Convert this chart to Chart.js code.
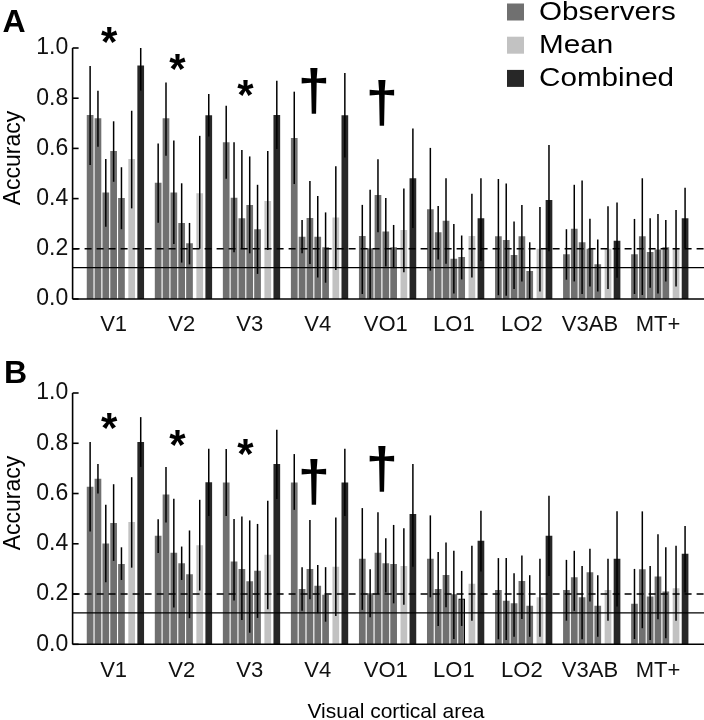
<!DOCTYPE html>
<html>
<head>
<meta charset="utf-8">
<title>Accuracy by visual cortical area</title>
<script src="https://cdn.jsdelivr.net/npm/chart.js@4.4.1/dist/chart.umd.min.js"></script>
<style>
  body { margin: 0; background: #fff; }
  #wrap { position: relative; width: 704px; height: 720px; }
  canvas { position: absolute; left: 0; }
  #chartA { top: 0; }
  #chartB { top: 345px; }
</style>
</head>
<body>
<div id="wrap">
  <canvas id="chartA" width="704" height="345"></canvas>
  <canvas id="chartB" width="704" height="375"></canvas>
</div>
<script>
const areas = ['V1', 'V2', 'V3', 'V4', 'VO1', 'LO1', 'LO2', 'V3AB', 'MT+'];
const yTickValues = [0, 0.2, 0.4, 0.6, 0.8, 1.0];
const chanceLevel = 0.125;
const criterionLevel = 0.2;

// panel A - five observers, mean of observers, combined
const obs1A = [0.733, 0.463, 0.625, 0.641, 0.251, 0.358, 0.25, 0.178, 0.178];
const obs2A = [0.72, 0.72, 0.403, 0.248, 0.202, 0.266, 0.235, 0.28, 0.25];
const obs3A = [0.424, 0.424, 0.322, 0.323, 0.414, 0.312, 0.175, 0.226, 0.187];
const obs4A = [0.59, 0.303, 0.375, 0.248, 0.269, 0.16, 0.25, 0.2, 0.197];
const obs5A = [0.402, 0.222, 0.278, 0.206, 0.206, 0.167, 0.112, 0.138, 0.206];
const meanA = [0.558, 0.421, 0.39, 0.325, 0.275, 0.251, 0.2, 0.2, 0.2];
const combA = [0.93, 0.732, 0.733, 0.732, 0.481, 0.322, 0.394, 0.232, 0.322];

const obs1ErrA = [[0.534,0.928],[0.304,0.62],[0.479,0.77],[0.458,0.826],[0.02,0.375],[0.113,0.602],[0.015,0.478],[0.077,0.278],[0.02,0.319]];
const obs2ErrA = [[0.607,0.83],[0.571,0.863],[0.186,0.625],[0.182,0.315],[0,0.435],[0.157,0.371],[0.013,0.46],[0.07,0.455],[0.016,0.481]];
const obs3ErrA = [[0.288,0.558],[0.219,0.631],[0.202,0.594],[0.139,0.47],[0.266,0.557],[0.14,0.481],[0.04,0.309],[0.02,0.472],[0.045,0.322]];
const obs4ErrA = [[0.467,0.708],[0.145,0.461],[0.182,0.568],[0.086,0.41],[0.129,0.402],[0.022,0.299],[0.07,0.375],[0.05,0.32],[0.022,0.339]];
const obs5ErrA = [[0.278,0.525],[0.138,0.303],[0.1,0.455],[0.065,0.345],[0.123,0.295],[0.078,0.253],[0,0.226],[0.03,0.237],[0.07,0.315]];
const meanErrA = [[0.361,0.75],[0.2,0.65],[0.195,0.59],[0.116,0.529],[0.107,0.44],[0.086,0.419],[0.03,0.367],[0.04,0.37],[0.05,0.355]];
const combErrA = [[0.83,1.0],[0.647,0.817],[0.598,0.87],[0.564,0.9],[0.283,0.679],[0.151,0.481],[0.19,0.614],[0.085,0.384],[0.203,0.443]];

// panel B
const obs1B = [0.627, 0.432, 0.644, 0.644, 0.34, 0.34, 0.216, 0.216, 0.161];
const obs2B = [0.659, 0.596, 0.329, 0.22, 0.203, 0.22, 0.173, 0.267, 0.299];
const obs3B = [0.401, 0.364, 0.3, 0.3, 0.364, 0.276, 0.163, 0.187, 0.19];
const obs4B = [0.483, 0.323, 0.251, 0.233, 0.323, 0.199, 0.252, 0.287, 0.27];
const obs5B = [0.32, 0.279, 0.293, 0.197, 0.32, 0.182, 0.153, 0.153, 0.21];
const meanB = [0.487, 0.394, 0.356, 0.309, 0.312, 0.241, 0.187, 0.216, 0.223];
const combB = [0.805, 0.645, 0.717, 0.644, 0.519, 0.412, 0.432, 0.34, 0.36];

const obs1ErrB = [[0.449,0.805],[0.363,0.498],[0.511,0.777],[0.535,0.757],[0.137,0.542],[0.187,0.513],[0.02,0.343],[0.094,0.336],[0.021,0.3]];
const obs2ErrB = [[0.6,0.717],[0.485,0.706],[0.174,0.499],[0.134,0.307],[0.108,0.299],[0.073,0.367],[0.017,0.343],[0.133,0.372],[0.064,0.529]];
const obs3ErrB = [[0.247,0.555],[0.146,0.579],[0.097,0.509],[0.179,0.495],[0.2,0.525],[0.147,0.405],[0.03,0.283],[0.02,0.312],[0.017,0.312]];
const obs4ErrB = [[0.332,0.637],[0.256,0.389],[0.046,0.493],[0.124,0.316],[0.206,0.422],[0.021,0.372],[0.101,0.353],[0.17,0.38],[0.1,0.438]];
const obs5ErrB = [[0.256,0.386],[0.104,0.453],[0.105,0.479],[0.09,0.307],[0.163,0.475],[0.073,0.292],[0.03,0.275],[0.03,0.275],[0.024,0.386]];
const meanErrB = [[0.305,0.665],[0.214,0.575],[0.139,0.571],[0.113,0.505],[0.157,0.462],[0.094,0.392],[0.03,0.34],[0.094,0.34],[0.094,0.392]];
const combErrB = [[0.706,0.904],[0.511,0.778],[0.578,0.854],[0.511,0.778],[0.309,0.717],[0.29,0.531],[0.272,0.591],[0.15,0.529],[0.206,0.471]];

// significance marks above areas, and the height (accuracy) they sit at
const marksA = ['*', '*', '*', '\u2020', '\u2020', '', '', '', ''];
const markLevelsA = [1.052, 0.944, 0.839, 0.828, 0.779, 0, 0, 0, 0];
const marksB = ['*', '*', '*', '\u2020', '\u2020', '', '', '', ''];
const markLevelsB = [0.887, 0.821, 0.787, 0.646, 0.699, 0, 0, 0, 0];

const FONT = "'Liberation Sans', Arial, Helvetica, sans-serif";
const colObs = '#707070';
const colMean = '#c2c2c2';
const colComb = '#272727';

Chart.defaults.font.family = FONT;
Chart.defaults.color = '#111';

function makeDatasets(obs, obsErr, mean, meanErr, comb, combErr, outlined) {
    const ds = obs.map((vals, k) => ({
        label: 'Observers',
        data: vals,
        errors: obsErr[k],
        backgroundColor: colObs,
        borderColor: '#000',
        borderWidth: c => (outlined && outlined[0] === k && outlined[1] === c.dataIndex) ? 1.3 : 0,
        categoryPercentage: 0.806,
        barPercentage: 0.856
    }));
    ds.push({ label: 'Mean', data: mean, errors: meanErr, backgroundColor: colMean,
        borderWidth: 0, categoryPercentage: 0.929, barPercentage: 0.742 });
    ds.push({ label: 'Combined', data: comb, errors: combErr, backgroundColor: colComb,
        borderWidth: 0, categoryPercentage: 0.929, barPercentage: 0.742 });
    return ds;
}

function hline(ctx, x1, x2, y) {
    ctx.beginPath(); ctx.moveTo(x1, y); ctx.lineTo(x2, y); ctx.stroke();
}

// error bars, reference lines and the axis frame
const framePlugin = {
    id: 'frame',
    afterDatasetsDraw(chart) {
        const { ctx, chartArea, width } = chart;
        const y = chart.scales.y;
        ctx.save();
        ctx.strokeStyle = '#000';
        ctx.lineWidth = 1.5;
        chart.data.datasets.forEach((ds, i) => {
            chart.getDatasetMeta(i).data.forEach((bar, j) => {
                const e = ds.errors[j];
                ctx.beginPath();
                ctx.moveTo(bar.x, y.getPixelForValue(e[0]));
                ctx.lineTo(bar.x, y.getPixelForValue(e[1]));
                ctx.stroke();
            });
        });
        const x0 = chartArea.left - 7;
        ctx.lineWidth = 1.4;
        ctx.setLineDash([7, 5]);
        hline(ctx, x0, width, y.getPixelForValue(criterionLevel));
        ctx.setLineDash([]);
        hline(ctx, x0, width, y.getPixelForValue(chanceLevel));
        ctx.lineWidth = 1.6;
        hline(ctx, x0, width, y.getPixelForValue(0));
        ctx.beginPath();
        ctx.moveTo(x0, y.getPixelForValue(yTickValues[yTickValues.length - 1]));
        ctx.lineTo(x0, y.getPixelForValue(0));
        ctx.stroke();
        yTickValues.forEach(v => hline(ctx, x0, x0 + 6, y.getPixelForValue(v)));
        ctx.restore();
    }
};

function drawCentered(ctx, text, cx, cy) {
    const m = ctx.measureText(text);
    const x = cx - (m.actualBoundingBoxRight - m.actualBoundingBoxLeft) / 2;
    const yy = cy + (m.actualBoundingBoxAscent - m.actualBoundingBoxDescent) / 2;
    ctx.fillText(text, x, yy);
}

// panel letter, axis title, significance marks, legend
const textPlugin = {
    id: 'panelText',
    afterDraw(chart, args, opts) {
        const { ctx } = chart;
        const x = chart.scales.x, y = chart.scales.y;
        ctx.save();
        ctx.fillStyle = '#000';
        ctx.textAlign = 'left';
        ctx.textBaseline = 'alphabetic';

        ctx.font = 'bold 32px ' + FONT;
        ctx.fillText(opts.letter, opts.letterX, opts.letterY);

        ctx.save();
        ctx.font = '23px ' + FONT;
        ctx.textAlign = 'center';
        ctx.translate(19.5, 158);
        ctx.rotate(-Math.PI / 2);
        ctx.fillText('Accuracy', 0, 0);
        ctx.restore();

        opts.marks.forEach((s, i) => {
            if (!s) return;
            ctx.font = (s === '*' ? 'bold 42px ' : 'bold 58px ') + FONT;
            drawCentered(ctx, s, x.getPixelForValue(i) - 4, y.getPixelForValue(opts.markLevels[i]));
        });

        if (opts.legend) {
            const entries = [0, 5, 6].map(i => chart.data.datasets[i]);
            entries.forEach((d, k) => {
                const top = 3.5 + k * 33.2;
                ctx.fillStyle = d.backgroundColor;
                ctx.fillRect(507, top, 17, 17);
                ctx.fillStyle = '#000';
                ctx.save();
                ctx.font = '26px ' + FONT;
                ctx.textBaseline = 'middle';
                ctx.translate(539, top + 9);
                ctx.scale(1.14, 1);
                ctx.fillText(d.label, 0, 0);
                ctx.restore();
            });
        }
        if (opts.xTitle) {
            ctx.font = '21px ' + FONT;
            ctx.textAlign = 'center';
            ctx.fillText(opts.xTitle, 396, 373);
        }
        ctx.restore();
    }
};

function makeChart(id, datasets, bottomPad, text) {
    return new Chart(document.getElementById(id), {
        type: 'bar',
        data: { labels: areas, datasets: datasets },
        plugins: [framePlugin, textPlugin],
        options: {
            responsive: false,
            animation: false,
            layout: { padding: { top: 48, right: 12, left: 0, bottom: bottomPad } },
            plugins: {
                legend: { display: false },
                tooltip: { enabled: false },
                panelText: text
            },
            scales: {
                x: {
                    grid: { display: false, drawTicks: false },
                    border: { display: false },
                    ticks: { font: { size: 22 }, padding: 13, color: '#111' },
                    afterFit: s => { s.height = 46; }
                },
                y: {
                    min: 0,
                    max: 1,
                    afterBuildTicks: s => { s.ticks = yTickValues.map(v => ({ value: v })); },
                    ticks: { font: { size: 23 }, padding: 11.3, color: '#111', callback: v => v.toFixed(1) },
                    grid: { display: false, drawTicks: false },
                    border: { display: false },
                    afterFit: s => { s.width = 79.6; }
                }
            }
        }
    });
}

makeChart('chartA',
    makeDatasets([obs1A, obs2A, obs3A, obs4A, obs5A], [obs1ErrA, obs2ErrA, obs3ErrA, obs4ErrA, obs5ErrA],
        meanA, meanErrA, combA, combErrA, null),
    0,
    { letter: 'A', letterX: 2.5, letterY: 31.7, marks: marksA, markLevels: markLevelsA, legend: true });

makeChart('chartB',
    makeDatasets([obs1B, obs2B, obs3B, obs4B, obs5B], [obs1ErrB, obs2ErrB, obs3ErrB, obs4ErrB, obs5ErrB],
        meanB, meanErrB, combB, combErrB, [4, 5]),
    29.7,
    { letter: 'B', letterX: 4, letterY: 37.7, marks: marksB, markLevels: markLevelsB, legend: false,
      xTitle: 'Visual cortical area' });
</script>
</body>
</html>
